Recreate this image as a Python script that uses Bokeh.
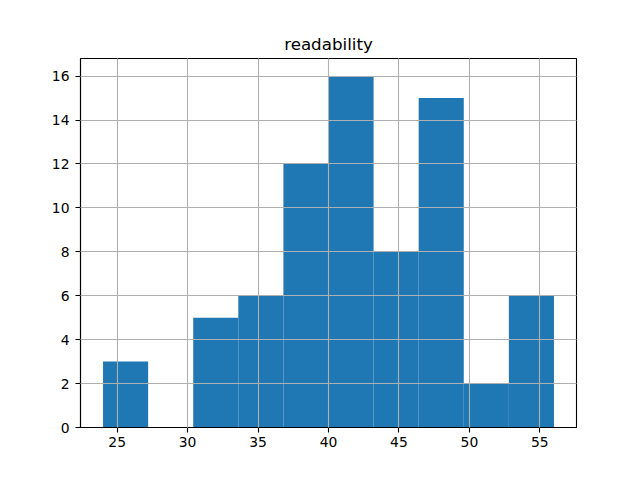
from bokeh.plotting import figure
from bokeh.models import Range1d, FixedTicker
from bokeh.embed import file_html
from bokeh.resources import INLINE

title = "readability"
bin_edges = [24.0, 27.2, 30.4, 33.6, 36.8, 40.0, 43.2, 46.4, 49.6, 52.8, 56.0]
counts = [3, 0, 5, 6, 12, 16, 8, 15, 2, 6]
x_ticks = [25, 30, 35, 40, 45, 50, 55]
y_ticks = [0, 2, 4, 6, 8, 10, 12, 14, 16]

lefts = bin_edges[:-1]
rights = bin_edges[1:]
bottoms = [0] * len(counts)

p = figure(width=632, height=472, output_backend="svg", toolbar_location=None,
           x_range=Range1d(22.4, 57.6), y_range=Range1d(0, 16.8),
           min_border_left=80, min_border_right=56, min_border_top=58, min_border_bottom=45,
           title=title)

p.quad(left=lefts, right=rights, top=counts, bottom=bottoms,
       fill_color="#1f77b4", line_color=None)

p.title.align = "center"
p.title.text_font = "DejaVu Sans"
p.title.text_font_size = "16.7px"
p.title.text_font_style = "normal"
p.title.text_color = "black"

for ax in (p.xaxis[0], p.yaxis[0]):
    ax.major_label_text_font = "DejaVu Sans"
    ax.major_label_text_font_size = "13.9px"
    ax.major_label_text_color = "black"
    ax.major_tick_out = 5
    ax.major_tick_in = 0
    ax.minor_tick_out = 0
    ax.minor_tick_in = 0
    ax.major_tick_line_width = 1.1
    ax.major_tick_line_color = "black"
    ax.axis_line_color = "black"
    ax.axis_line_width = 1.1

p.xaxis[0].major_label_standoff = 4
p.yaxis[0].major_label_standoff = 6

p.xaxis[0].ticker = FixedTicker(ticks=x_ticks)
p.yaxis[0].ticker = FixedTicker(ticks=y_ticks)

for g in (p.xgrid[0], p.ygrid[0]):
    g.grid_line_color = "#b0b0b0"
    g.grid_line_width = 1.1
    g.level = "overlay"

p.outline_line_color = "black"
p.outline_line_width = 1.1
p.outline_line_alpha = 1.0
p.background_fill_color = "white"
p.border_fill_color = "white"

open("out.html", "w").write(file_html(p, INLINE))
